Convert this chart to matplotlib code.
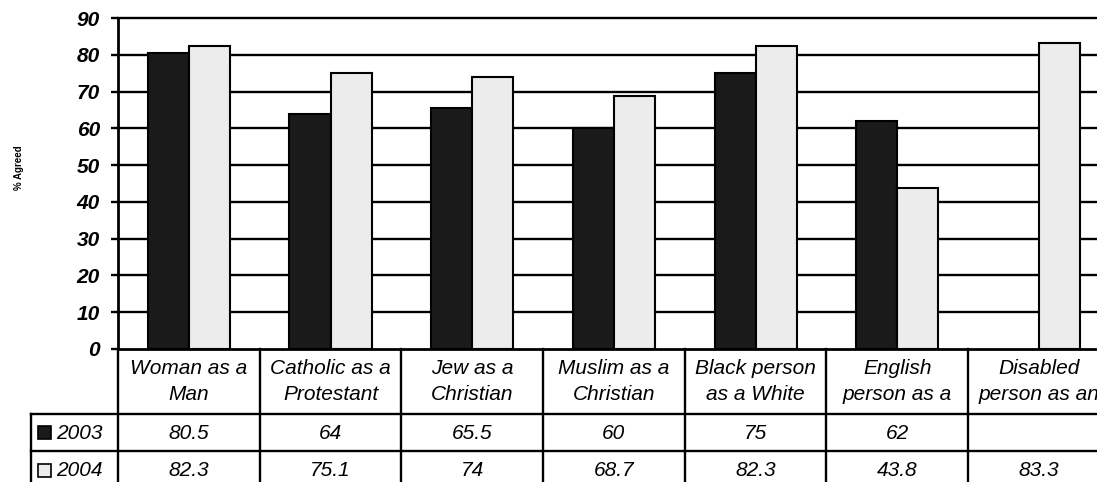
import numpy as np
import matplotlib
matplotlib.use("Agg")
import matplotlib.pyplot as plt
from matplotlib.patches import Rectangle

# ---- data ----
categories = [
    "Woman as a\nMan",
    "Catholic as a\nProtestant",
    "Jew as a\nChristian",
    "Muslim as a\nChristian",
    "Black person\nas a White",
    "English\nperson as a",
    "Disabled\nperson as an",
]
series_names = ["2003", "2004"]
values_2003 = [80.5, 64, 65.5, 60, 75, 62, np.nan]
values_2004 = [82.3, 75.1, 74, 68.7, 82.3, 43.8, 83.3]
labels_2003 = ["80.5", "64", "65.5", "60", "75", "62", ""]
labels_2004 = ["82.3", "75.1", "74", "68.7", "82.3", "43.8", "83.3"]
y_ticks = [0, 10, 20, 30, 40, 50, 60, 70, 80, 90]

colors = ["#1a1a1a", "#ececec"]

W, H = 1097, 482
fig = plt.figure(figsize=(W / 100, H / 100), dpi=100)
fig.patch.set_facecolor("white")

# plot area in pixel units
x0_px, col_px = 118.0, 141.7
top_px, base_px = 18.0, 349.0
n = len(categories)

ax = fig.add_axes([x0_px / W, 1 - base_px / H, n * col_px / W, (base_px - top_px) / H])
ax.set_xlim(0, n)
ax.set_ylim(0, 90)

lw = 1.7
for y in y_ticks[1:]:
    ax.axhline(y, color="black", lw=lw, zorder=1, clip_on=False)

bar_w = 0.29
x = np.arange(n) + 0.5
ax.bar(x - bar_w / 2, values_2003, width=bar_w, color=colors[0], edgecolor="black",
       linewidth=1.5, zorder=3)
ax.bar(x + bar_w / 2, values_2004, width=bar_w, color=colors[1], edgecolor="black",
       linewidth=1.5, zorder=3)

for s in ["top", "right", "bottom"]:
    ax.spines[s].set_visible(False)
ax.spines["left"].set_linewidth(2.0)
ax.set_xticks([])
ax.set_yticks(y_ticks)
ax.set_yticklabels([str(v) for v in y_ticks], fontfamily="Liberation Sans",
                   fontweight="bold", fontstyle="italic", fontsize=15)
ax.tick_params(axis="y", length=5, width=1.7, pad=8)

fig.text(19.5 / W, 1 - 168 / H, "% Agreed", rotation=90, ha="center", va="center",
         fontfamily="Liberation Sans", fontweight="bold", fontsize=7)

# ---- data table beneath the plot ----
tab = fig.add_axes([x0_px / W, 0, n * col_px / W, (H - base_px) / H])
tab.set_xlim(0, n)
tab.set_ylim(H, base_px)
tab.axis("off")

row_lines = [base_px, 413.5, 451.0, 488.5]
legend_left = (31 - x0_px) / col_px

tab.plot([0, n], [row_lines[0]] * 2, color="black", lw=2.0, clip_on=False)
for yl in row_lines[1:]:
    tab.plot([legend_left, n], [yl] * 2, color="black", lw=1.7, clip_on=False)
for i in range(n + 1):
    tab.plot([i, i], [row_lines[0], H + 10], color="black", lw=1.7, clip_on=False)
tab.plot([legend_left, legend_left], [row_lines[1], H + 10], color="black", lw=1.7,
         clip_on=False)

font = dict(fontfamily="Liberation Sans", fontstyle="italic", fontsize=15)
cat_mid = (row_lines[0] + row_lines[1]) / 2
for i, c in enumerate(categories):
    tab.text(i + 0.5, cat_mid, c, ha="center", va="center", linespacing=1.45,
             clip_on=False, **font)

rows = [labels_2003, labels_2004]
for r, labels in enumerate(rows):
    ym = (row_lines[r + 1] + row_lines[r + 2]) / 2
    for i, t in enumerate(labels):
        if t:
            tab.text(i + 0.5, ym + 1, t, ha="center", va="center", clip_on=False, **font)
    # legend key and series name
    sw = 13 / col_px
    tab.add_patch(Rectangle(((38 - x0_px) / col_px, ym - 6), sw, 13,
                            facecolor=colors[r], edgecolor="black", lw=1.2, clip_on=False))
    tab.text((56 - x0_px) / col_px, ym + 1, series_names[r], ha="left", va="center",
             clip_on=False, **font)

fig.savefig("out.png", dpi=100)
